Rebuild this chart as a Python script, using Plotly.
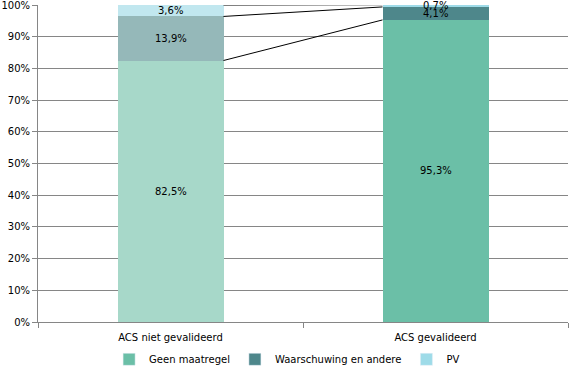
import plotly.graph_objects as go

categories = ["ACS niet gevalideerd", "ACS gevalideerd"]
series_names = ["Geen maatregel", "Waarschuwing en andere", "PV"]
geen = [0.825, 0.953]
waarsch = [0.139, 0.041]
pv = [0.036, 0.007]
values = [geen, waarsch, pv]
colors_full = ["#6bbfa7", "#4e878b", "#9edbe8"]
colors_faded = ["#a7d8c9", "#95b8b9", "#c1e7ef"]

FONT = "DejaVu Sans"
BAR_W = 0.4

fig = go.Figure()
for name, vals, cf, cl in zip(series_names, values, colors_full, colors_faded):
    fig.add_trace(go.Bar(
        name=name, x=categories, y=vals, width=BAR_W,
        marker=dict(color=[cl, cf], line=dict(width=0)),
        hoverinfo="skip", showlegend=False,
    ))
# legend entries with the full colours
for name, cf in zip(series_names, colors_full):
    fig.add_trace(go.Bar(name=name, x=[None], y=[None], marker_color=cf,
                         showlegend=True, hoverinfo="skip"))

# connector lines between cumulative tops, and segment labels
cum = [[0, 0]]
for vals in values:
    cum.append([cum[-1][0] + vals[0], cum[-1][1] + vals[1]])
shapes = []
for level in cum[1:]:
    shapes.append(dict(type="line", xref="x", yref="y",
                       x0=0 + BAR_W / 2, x1=1 - BAR_W / 2,
                       y0=level[0], y1=level[1],
                       line=dict(color="black", width=1)))
annotations = []
for si, vals in enumerate(values):
    for ci, v in enumerate(vals):
        mid = cum[si][ci] + v / 2
        annotations.append(dict(x=ci, y=mid, xref="x", yref="y", showarrow=False,
                                text=("%.1f%%" % (v * 100)).replace(".", ","),
                                font=dict(family=FONT, size=10, color="black")))

fig.update_layout(
    width=571, height=371,
    margin=dict(l=38, r=3, t=5, b=49, autoexpand=False),
    barmode="stack", bargap=0,
    plot_bgcolor="white", paper_bgcolor="white",
    shapes=shapes, annotations=annotations,
    font=dict(family=FONT, size=10, color="black"),
    legend=dict(orientation="h", x=0.47, xanchor="center", y=-0.072, yanchor="top",
                font=dict(family=FONT, size=10), itemwidth=30, traceorder="normal",
                tracegroupgap=0),
    xaxis=dict(showline=True, linecolor="#868686", ticks="outside", tickson="boundaries",
               ticklen=5, tickcolor="#868686", showgrid=False, automargin=False,
               ticklabelstandoff=6, tickfont=dict(family=FONT, size=10)),
    yaxis=dict(range=[0, 1.0001], tickformat=".0%", tickvals=[i / 10 for i in range(11)],
               showline=True, automargin=False, ticklabeloverflow="allow",
               linecolor="#868686", ticks="outside", ticklen=5, tickcolor="#868686",
               showgrid=True, gridcolor="#868686", gridwidth=1,
               tickfont=dict(family=FONT, size=10), zeroline=False),
)
fig.write_html("out.html", config={"displayModeBar": False},
               post_script="document.body.style.margin='0';")
